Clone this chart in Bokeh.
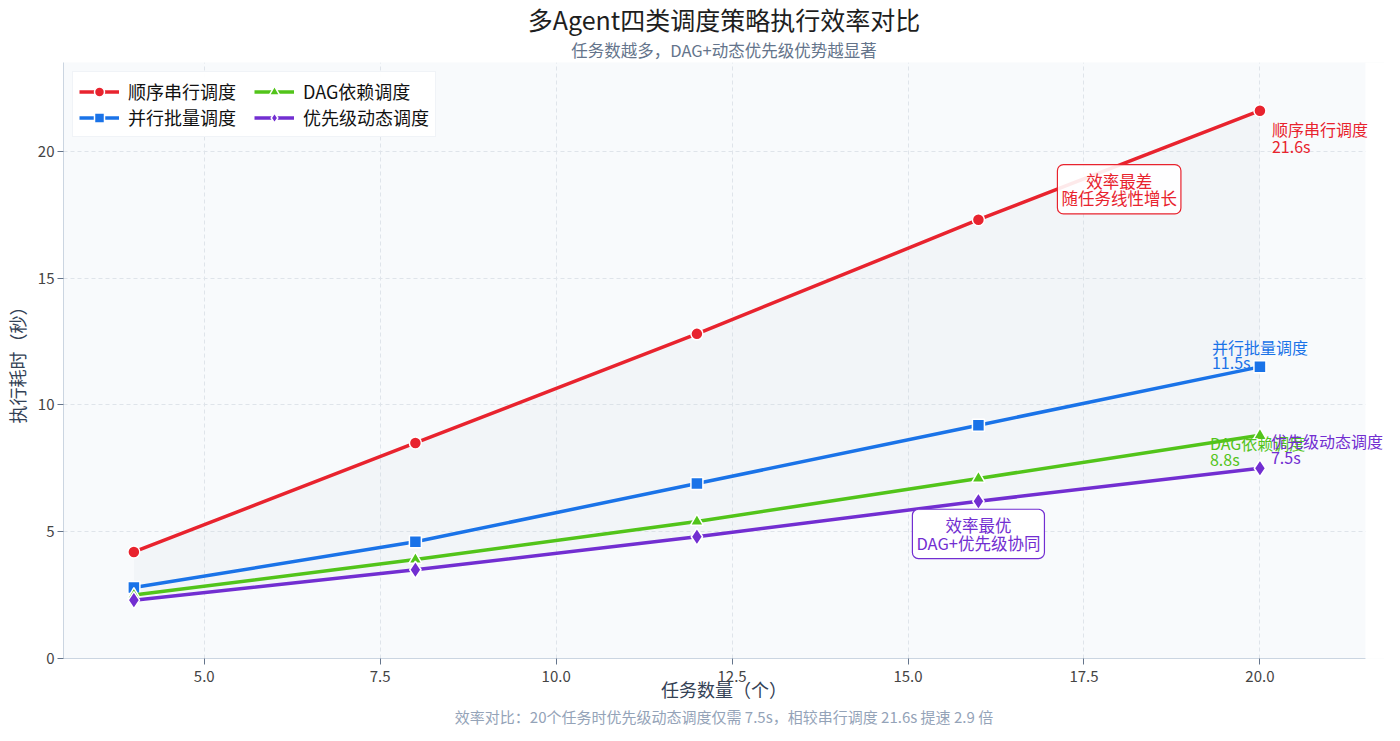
from bokeh.plotting import figure
from bokeh.models import (ColumnDataSource, Legend, LegendItem, Label, Title, BoxAnnotation,
                          SingleIntervalTicker, NumeralTickFormatter, Range1d)
from bokeh.embed import file_html
from bokeh.resources import INLINE

FONT = "Noto Sans CJK SC"

# data
task_counts = [4, 8, 12, 16, 20]
serial = [4.2, 8.5, 12.8, 17.3, 21.6]
batch = [2.8, 4.6, 6.9, 9.2, 11.5]
dag = [2.5, 3.9, 5.4, 7.1, 8.8]
priority = [2.3, 3.5, 4.8, 6.2, 7.5]

names = ["顺序串行调度", "并行批量调度", "DAG依赖调度", "优先级动态调度"]
colors = ["#e8232e", "#1a73e8", "#52c41a", "#722ed1"]
markers = ["circle", "square", "triangle", "diamond"]
series = [serial, batch, dag, priority]

X_END = 21.5


def main():
    # frame runs a bit past X_END so the end labels are not clipped; the extra strip is painted white
    p = figure(width=1384, height=725, x_range=Range1d(3.0, 21.77), y_range=Range1d(0, 23.5),
               output_backend="svg", toolbar_location=None, title=None,
               min_border_left=10, min_border_right=0, min_border_top=0, min_border_bottom=0)
    p.background_fill_color = "#f8fafc"
    p.border_fill_color = "white"
    p.outline_line_color = None

    src = ColumnDataSource(data=dict(x=task_counts, serial=serial, batch=batch, dag=dag, priority=priority))

    # band between fastest and slowest
    p.varea(x="x", y1="priority", y2="serial", source=src, fill_color="#cbd5e1", fill_alpha=0.12)

    items = []
    cols = ["serial", "batch", "dag", "priority"]
    for name, color, marker, col in zip(names, colors, markers, cols):
        ln = p.line(x="x", y=col, source=src, line_color=color, line_width=3.5)
        size = 12
        if marker == "triangle":
            size = 13
        if marker == "diamond":
            size = 17
        sc = p.scatter(x="x", y=col, source=src, marker=marker, size=size,
                       fill_color=color, line_color="white", line_width=1.5)
        items.append(LegendItem(label=name, renderers=[ln, sc]))

    p.add_layout(BoxAnnotation(left=X_END, fill_color="white", fill_alpha=1.0, line_color=None))

    # end labels: (x offset, name line drop, value line drop) in px
    offsets = [(12, 18, 35), (-48, -20, -5), (-50, 8, 24), (11, -27, -11)]
    for name, color, s, (dx, d1, d2) in zip(names, colors, series, offsets):
        for txt, d in ((name, d1), (str(s[-1]) + "s", d2)):
            p.add_layout(Label(x=task_counts[-1], y=s[-1], text=txt, x_offset=dx, y_offset=-d,
                               text_color=color, text_font=FONT, text_font_size="16px",
                               text_baseline="middle", text_align="left"))

    # callout boxes
    worst = Label(x=18.0, y=18.5, text="效率最差\n随任务线性增长", text_align="center",
                  text_baseline="middle", text_color=colors[0], text_font=FONT, text_font_size="16.5px",
                  background_fill_color="white", background_fill_alpha=0.9,
                  border_line_color=colors[0], border_line_width=1.2, border_radius=6,
                  padding=4, text_line_height=0.72)
    best = Label(x=task_counts[3], y=priority[3], y_offset=-8, text="效率最优\nDAG+优先级协同",
                 text_align="center", text_baseline="top", text_color=colors[3], text_font=FONT,
                 text_font_size="16.5px", background_fill_color="white", background_fill_alpha=0.9,
                 border_line_color=colors[3], border_line_width=1.2, border_radius=6,
                 padding=4, text_line_height=0.72)
    p.add_layout(worst)
    p.add_layout(best)

    legend = Legend(items=items, location="top_left", ncols=2,
                    label_text_font=FONT, label_text_font_size="18px", label_text_color="#111111",
                    glyph_width=40, glyph_height=25, spacing=0, padding=6, margin=9,
                    border_line_color="#e2e8f0", background_fill_color="white",
                    background_fill_alpha=0.95, label_standoff=9, label_height=25,
                    label_width=126)
    p.add_layout(legend)

    # axes
    p.xaxis.ticker = SingleIntervalTicker(interval=2.5)
    p.xaxis.formatter = NumeralTickFormatter(format="0.0")
    p.xaxis.bounds = (3.0, X_END)
    p.yaxis.ticker = SingleIntervalTicker(interval=5)
    for ax in (p.xaxis, p.yaxis):
        ax.axis_line_color = "#cbd5e1"
        ax.major_tick_line_color = "#64748b"
        ax.major_tick_out = 6
        ax.major_tick_in = 0
        ax.minor_tick_line_color = None
        ax.major_label_text_font = FONT
        ax.major_label_text_font_size = "15px"
        ax.major_label_text_color = "#444444"
        ax.major_label_standoff = 4
        ax.axis_label_text_font = FONT
        ax.axis_label_text_font_size = "18px"
        ax.axis_label_text_color = "#334155"
        ax.axis_label_text_font_style = "normal"
    p.xaxis.axis_label = "任务数量（个）"
    p.yaxis.axis_label = "执行耗时（秒）"
    p.yaxis.major_label_standoff = 3
    p.xaxis.major_label_standoff = 6
    p.xaxis.axis_label_standoff = -9
    p.yaxis.axis_label_standoff = 5

    p.grid.grid_line_color = "#dfe4ea"
    p.grid.grid_line_dash = "4 3"

    p.add_layout(Title(text="效率对比：20个任务时优先级动态调度仅需 7.5s，相较串行调度 21.6s 提速 2.9 倍",
                       align="center", text_font=FONT, text_font_size="15px", standoff=-2,
                       text_color="#94a3b8", text_font_style="normal"), "below")
    p.add_layout(Title(text="任务数越多，DAG+动态优先级优势越显著", align="center", text_font=FONT,
                       text_font_size="16.5px", text_color="#64748b", text_font_style="normal",
                       standoff=2), "above")
    p.add_layout(Title(text="多Agent四类调度策略执行效率对比", align="center", text_font=FONT,
                       text_font_size="25px", text_color="#1e1e1e", text_font_style="normal",
                       standoff=-4), "above")

    open("out.html", "w").write(file_html(p, INLINE))


if __name__ == "__main__":
    main()
